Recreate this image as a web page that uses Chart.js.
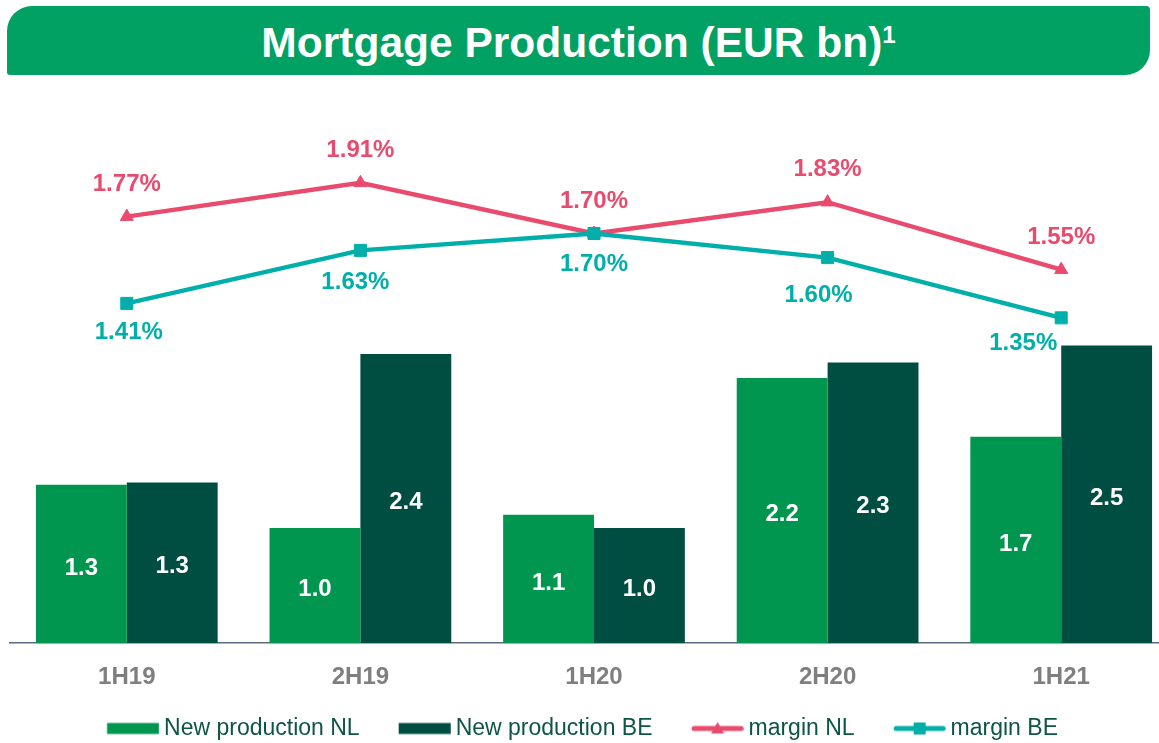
<!DOCTYPE html>
<html>
<head>
<meta charset="utf-8">
<script src="https://cdn.jsdelivr.net/npm/chart.js@4/dist/chart.umd.min.js"></script>
<style>
html,body{margin:0;padding:0;background:#fff;overflow:hidden;width:1159px;height:743px;}
#wrap{position:relative;width:1159px;height:743px;overflow:hidden;}
canvas{position:absolute;left:0;top:0;}
#banner{position:absolute;left:7px;top:6px;width:1143px;height:69px;background:#00A162;
  border-radius:25px 4px 25px 3px;color:#fff;font-family:"Liberation Sans",Arial,sans-serif;
  font-weight:bold;font-size:42.5px;line-height:69px;text-align:center;}
#banner .t{position:relative;top:1.5px;}
#banner .s{font-size:24px;vertical-align:14px;line-height:0;}
</style>
</head>
<body>
<div id="wrap">
<canvas id="c" width="1190" height="750"></canvas>
<div id="banner"><span class="t">Mortgage Production (EUR bn)<span class="s">1</span></span></div>
</div>
<script>
// ---- data ----
const categories = ['1H19', '2H19', '1H20', '2H20', '1H21'];
const productionNL = [1.32, 0.96, 1.07, 2.21, 1.72];
const productionBE = [1.34, 2.41, 0.96, 2.34, 2.48];
const marginNL = [1.77, 1.91, 1.70, 1.83, 1.55];
const marginBE = [1.41, 1.63, 1.70, 1.60, 1.35];
const seriesNames = ['New production NL', 'New production BE', 'margin NL', 'margin BE'];

// ---- styling ----
const FONT = '"Liberation Sans", Arial, sans-serif';
const C_NL = '#00964F', C_BE = '#004E42', C_MNL = '#E94B6E', C_MBE = '#00AFA9';
const LEG_FONT = 23, LEG_PAD = 6, SW_W = 52, SW_GAP = 5, ITEM_GAP = 39;
const A_OFF = ITEM_GAP - LEG_PAD;
const PSW = A_OFF + SW_W + SW_GAP - LEG_FONT / 2;
const CW = 2 * Math.ceil(A_OFF + SW_W - PSW / 2);
const CONTENT_X = A_OFF - (PSW / 2 - CW / 2);
const PX_PER_BAR = 120, PX_PER_PCT = 241;
const beLabelDX = [2, -5, 0, -9, -38];
const beLabelDY = [28.5, 32, 31, 37.5, 26];
const nlLabelDY = -32.5;

Chart.defaults.font.family = FONT;

function swatch(kind, color) {
  const c = document.createElement('canvas');
  c.width = CW; c.height = 18;
  const g = c.getContext('2d');
  const x0 = CONTENT_X, cy = 9;
  if (kind === 'bar') {
    g.fillStyle = color;
    g.fillRect(x0, cy - 5.5, SW_W, 11);
  } else {
    g.strokeStyle = color; g.lineWidth = 5; g.lineCap = 'round';
    g.beginPath(); g.moveTo(x0 + 2.5, cy); g.lineTo(x0 + SW_W - 2.5, cy); g.stroke();
    g.fillStyle = color;
    const mx = x0 + SW_W / 2;
    if (kind === 'tri') {
      g.beginPath(); g.moveTo(mx, cy - 6.5); g.lineTo(mx + 6.5, cy + 5); g.lineTo(mx - 6.5, cy + 5); g.closePath(); g.fill();
    } else {
      g.fillRect(mx - 6, cy - 6, 12, 12);
    }
  }
  return c;
}
const legendImgs = [swatch('bar', C_NL), swatch('bar', C_BE), swatch('tri', C_MNL), swatch('sq', C_MBE)];
const legendCols = [C_NL, C_BE, C_MNL, C_MBE];

const labelPlugin = {
  id: 'valueLabels',
  afterDatasetsDraw(chart) {
    const ctx = chart.ctx;
    ctx.save();
    ctx.textAlign = 'center';
    ctx.textBaseline = 'middle';
    chart.data.datasets.forEach((ds, di) => {
      const meta = chart.getDatasetMeta(di);
      meta.data.forEach((el, i) => {
        const v = ds.data[i];
        ctx.font = 'bold 24px ' + FONT;
        if (ds.type === 'bar') {
          ctx.fillStyle = '#FFFFFF';
          ctx.fillText(v.toFixed(1), el.x, (el.y + el.base) / 2 + 4);
        } else {
          ctx.fillStyle = ds.borderColor;
          const txt = v.toFixed(2) + '%';
          if (di === 2) ctx.fillText(txt, el.x, el.y + nlLabelDY);
          else ctx.fillText(txt, el.x + beLabelDX[i], el.y + beLabelDY[i]);
        }
      });
    });
    ctx.restore();
  }
};

const legendShift = {
  id: 'legendShift',
  afterLayout(chart) {
    const lg = chart.legend;
    if (!lg) return;
    const target = 582.5;
    const cur = (lg.left + lg.right) / 2 + A_OFF / 2;
    const d = target - cur;
    lg.left += d; lg.right += d;
  }
};

const chart = new Chart(document.getElementById('c'), {
  data: {
    labels: categories,
    datasets: [
      { type: 'bar', label: seriesNames[0], data: productionNL, backgroundColor: C_NL, yAxisID: 'y',
        categoryPercentage: 0.778, barPercentage: 1.0, borderWidth: 0, order: 3 },
      { type: 'bar', label: seriesNames[1], data: productionBE, backgroundColor: C_BE, yAxisID: 'y',
        categoryPercentage: 0.778, barPercentage: 1.0, borderWidth: 0, order: 3 },
      { type: 'line', label: seriesNames[2], data: marginNL, borderColor: C_MNL, backgroundColor: C_MNL,
        yAxisID: 'y2', borderWidth: 4.5, tension: 0, pointStyle: 'triangle', pointRadius: 7.5,
        pointBackgroundColor: C_MNL, pointBorderColor: C_MNL, pointBorderWidth: 1, order: 1 },
      { type: 'line', label: seriesNames[3], data: marginBE, borderColor: C_MBE, backgroundColor: C_MBE,
        yAxisID: 'y2', borderWidth: 4.5, tension: 0, pointStyle: 'rect', pointRadius: 8.5,
        pointBackgroundColor: C_MBE, pointBorderColor: C_MBE, pointBorderWidth: 1, order: 0 }
    ]
  },
  options: {
    responsive: false,
    animation: false,
    devicePixelRatio: 1,
    layout: { padding: { left: 10, right: 12, top: 90, bottom: 0 } },
    scales: {
      x: {
        offset: true,
        grid: { display: false, drawTicks: false },
        border: { display: true, color: '#5C6A80', width: 1.5 },
        ticks: { color: '#7F7F7F', font: { size: 24, weight: 'bold', family: FONT }, padding: 19.5, maxRotation: 0 }
      },
      y: { display: false, min: 0, max: 4.6 },
      y2: { display: false, min: 0, max: 2.29 }
    },
    plugins: {
      tooltip: { enabled: false },
      legend: {
        position: 'bottom',
        labels: {
          color: '#0D5546',
          font: { size: LEG_FONT, family: FONT },
          padding: LEG_PAD,
          usePointStyle: true,
          pointStyleWidth: PSW,
          boxHeight: 11,
          generateLabels: () => seriesNames.map((n, i) => ({
            text: n, fillStyle: legendCols[i], strokeStyle: legendCols[i], lineWidth: 0,
            pointStyle: legendImgs[i], hidden: false, datasetIndex: i, fontColor: '#0D5546'
          }))
        }
      }
    }
  },
  plugins: [labelPlugin, legendShift]
});

// fit the value axes to the chart area so bars (EUR bn) and margins (%) share the baseline
const h = chart.chartArea.bottom - chart.chartArea.top;
chart.options.scales.y.max = h / PX_PER_BAR;
chart.options.scales.y2.max = h / PX_PER_PCT;
chart.update('none');
</script>
</body>
</html>
